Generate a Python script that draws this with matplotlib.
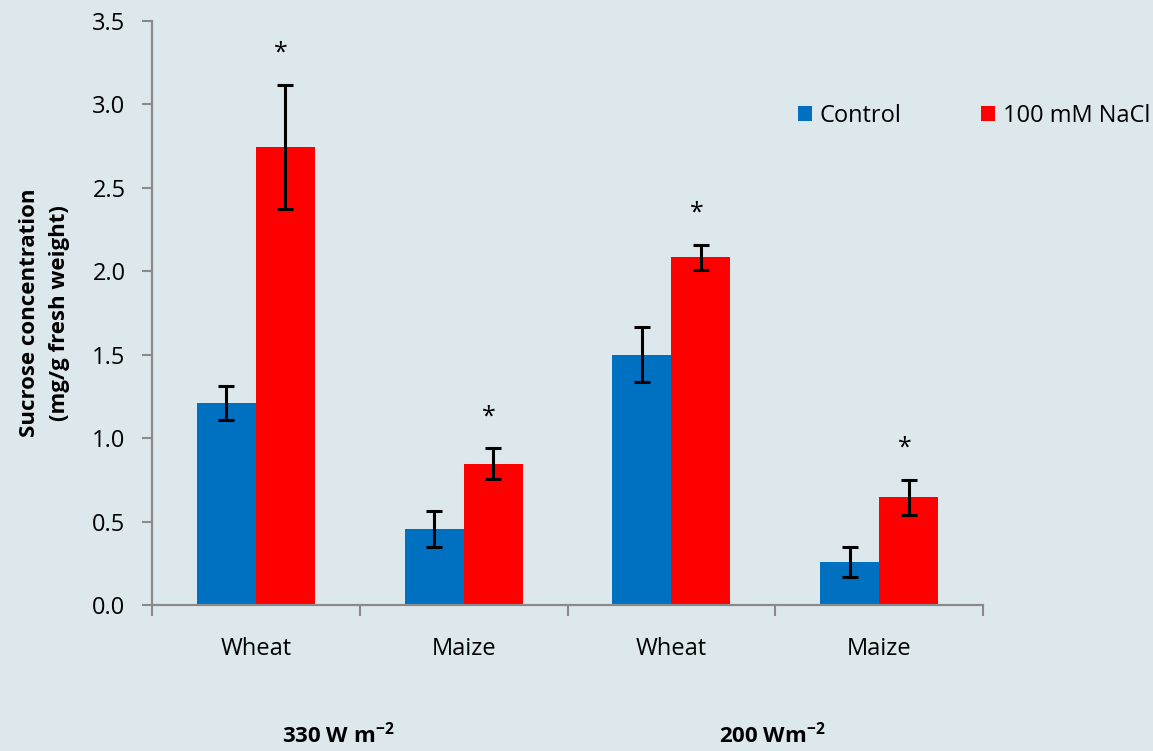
import matplotlib
matplotlib.use("Agg")
import matplotlib.pyplot as plt
import matplotlib.transforms as mtransforms
import numpy as np

plt.rcParams['font.family'] = ['Open Sans', 'DejaVu Sans']
plt.rcParams['mathtext.fontset'] = 'custom'
plt.rcParams['mathtext.rm'] = 'Open Sans'
plt.rcParams['mathtext.bf'] = 'Open Sans:bold'

# Sucrose data, two light levels x two crops
crops = ["Wheat", "Maize", "Wheat", "Maize"]
light_labels = ["330 W m$^{\\mathbf{-2}}$", "200 Wm$^{\\mathbf{-2}}$"]
control = [1.21, 0.455, 1.50, 0.255]
control_err = [0.10, 0.11, 0.165, 0.09]
nacl = [2.745, 0.848, 2.083, 0.645]
nacl_err = [0.37, 0.09, 0.075, 0.105]

bg = "#dde8ed"
axis_col = "#8a8a8a"

fig = plt.figure(figsize=(11.53, 7.51), dpi=100, facecolor=bg)
ax = fig.add_axes([0.1318, 0.1944, 0.7208, 0.7776], facecolor=bg)

x = np.arange(len(crops))
w = 0.284
err_kw = dict(ecolor="black", elinewidth=2.2, capsize=6, capthick=2.2)
ax.bar(x - w / 2, control, w, yerr=control_err, color="#0070c0",
       label="Control", error_kw=err_kw, zorder=2)
ax.bar(x + w / 2, nacl, w, yerr=nacl_err, color="#ff0000",
       label="100 mM NaCl", error_kw=err_kw, zorder=2)

# significance marks over the salt-treated bars
for xi, v, e in zip(x, nacl, nacl_err):
    ax.text(xi + w / 2 - 0.02, v + e + 0.19, "*", ha="center", va="center",
            fontsize=18, color="black")

ax.set_xlim(-0.5, 3.5)
ax.set_ylim(0, 3.5)
ax.set_yticks(np.arange(0, 3.51, 0.5))
ax.set_yticklabels([f"{t:.1f}" for t in np.arange(0, 3.51, 0.5)])

# group dividers as major ticks, crop names on minor ticks
ax.set_xticks(np.arange(-0.5, 3.6, 1.0))
ax.set_xticklabels([])
ax.set_xticks(x, minor=True)
ax.set_xticklabels(crops, minor=True)
ax.tick_params(axis="x", which="major", direction="out", length=8,
               width=1.5, color=axis_col)
ax.tick_params(axis="x", which="minor", length=0, pad=23, labelsize=17)
ax.tick_params(axis="y", direction="out", length=7, width=1.5,
               color=axis_col, pad=12, labelsize=17)

for s in ["top", "right"]:
    ax.spines[s].set_visible(False)
for s in ["left", "bottom"]:
    ax.spines[s].set_color(axis_col)
    ax.spines[s].set_linewidth(1.6)

ax.set_ylabel("Sucrose concentration\n(mg/g fresh weight)", fontsize=16,
              fontweight="bold", labelpad=16, linespacing=1.55)

trans = mtransforms.blended_transform_factory(ax.transData, fig.transFigure)
ax.text(0.395, 0.022, light_labels[0], transform=trans, ha="center",
        va="center", fontsize=16, fontweight="bold")
ax.text(2.484, 0.022, light_labels[1], transform=trans, ha="center",
        va="center", fontsize=16, fontweight="bold")

ax.legend(loc="center left", bbox_to_anchor=(0.692, 0.8455),
          bbox_transform=fig.transFigure, ncol=2, frameon=False,
          fontsize=17, handlelength=0.6, handleheight=0.6,
          handletextpad=0.3, columnspacing=3.4, borderpad=0,
          borderaxespad=0)

fig.savefig("out.png", dpi=100, facecolor=bg)
